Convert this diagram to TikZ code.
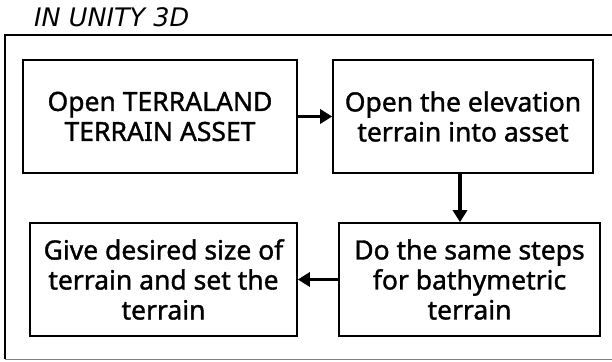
\documentclass[tikz,border=0pt]{standalone}
\usepackage{fontspec}
\setmainfont{Noto Sans}[FakeBold=1.3]
\newfontfamily\titlefont{DejaVu Sans}
\usetikzlibrary{arrows.meta}
\tikzset{
  stepbox/.style={draw, line width=1.6pt, minimum width=#1, minimum height=113pt, align=center, font=\bfseries\fontsize{26.5}{30}\selectfont, inner sep=0pt},
  flow/.style={line width=3.8pt, -{Triangle[length=12pt,width=14pt]}},
}
\begin{document}
\begin{tikzpicture}[x=1pt,y=-1pt]
\useasboundingbox (0,0) rectangle (612,361);
\draw[line width=1.6pt] (5,359) -- (5,35) -- (612,35);
\draw[line width=1.2pt, gray] (5,359.5) -- (612,359.5);
\node[anchor=south west, inner sep=0pt, font=\titlefont\itshape\fontsize{25.5}{28}\selectfont] (title) at (34,27) {IN UNITY 3D};
\node[stepbox=274pt] (a) at (160,116.5) {Open TERRALAND\\TERRAIN ASSET};
\node[stepbox=260pt] (b) at (463,116.5) {Open the elevation\\terrain into asset};
\node[stepbox=261pt] (c) at (469.5,279.5) {Do the same steps\\for bathymetric\\terrain};
\node[stepbox=267pt] (d) at (163.5,279.5) {Give desired size of\\terrain and set the\\terrain};
\draw[flow] (a.east) -- (b.west);
\draw[flow] (b.south -| 460,0) -- (c.north -| 460,0);
\draw[flow] (c.west) -- (d.east);
\end{tikzpicture}
\end{document}
